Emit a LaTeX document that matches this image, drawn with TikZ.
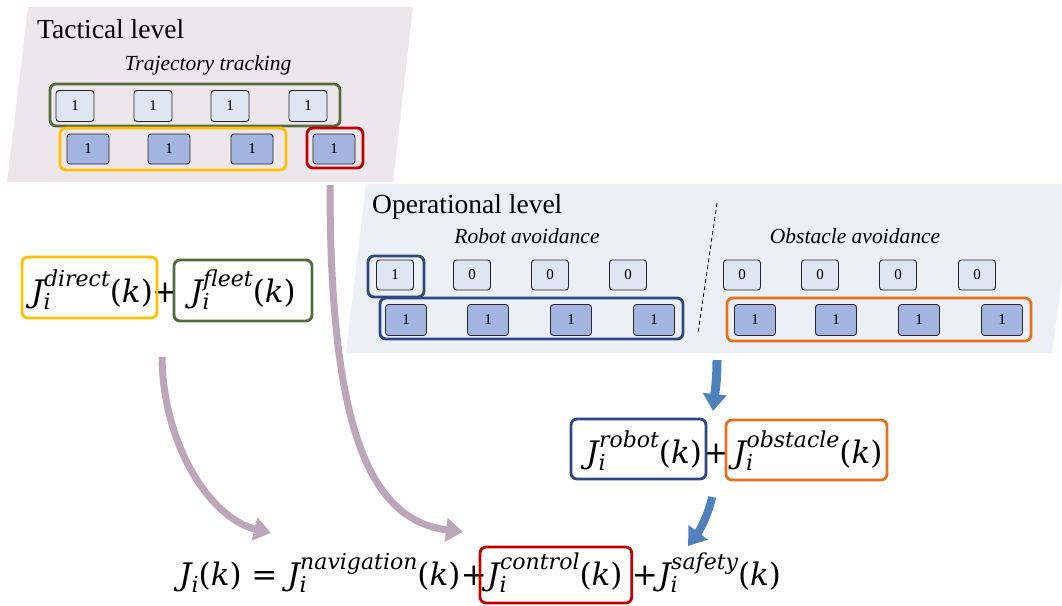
\RequirePackage{fix-cm}
\documentclass[tikz,border=0pt]{standalone}
\usepackage{fontspec}
\setmainfont{Liberation Serif}
\newfontfamily\mf{DejaVu Serif}
\newcommand\sps{\fontsize{22}{22}\selectfont\mf\itshape}
\newcommand\Jx[1]{{\mf\itshape J}\rlap{\raisebox{-7pt}{\sps i}}\kern0.5pt\raisebox{16pt}{\sps #1}{\mf(\itshape k\upshape)}}
\usetikzlibrary{arrows.meta}
\definecolor{tacbg}{HTML}{EDE6EA}
\definecolor{opbg}{HTML}{ECEFF6}
\definecolor{lightbox}{HTML}{DEE5F3}
\definecolor{darkbox}{HTML}{A3B4E0}
\definecolor{olive}{HTML}{556B3E}
\definecolor{gold}{HTML}{FFC000}
\definecolor{darkred}{HTML}{C00000}
\definecolor{navy}{HTML}{2E4780}
\definecolor{orng}{HTML}{E8701A}
\definecolor{mauve}{HTML}{BBA6BA}
\definecolor{bluearr}{HTML}{4F81BD}
\begin{document}
\begin{tikzpicture}[x=1pt,y=-1pt,
  cell/.style={draw=black!85, rounded corners=3pt, line width=0.9pt, inner sep=0pt, font=\fontsize{15}{15}\selectfont},
  lcell/.style={cell, fill=lightbox, minimum width=38pt, minimum height=31pt},
  dcell/.style={cell, fill=darkbox, minimum width=42pt, minimum height=30pt},
  grp/.style={rounded corners=6pt, line width=2.8pt},
  title/.style={font=\fontsize{27.5}{30}\selectfont, anchor=base west, inner sep=0pt},
  sub/.style={font=\fontsize{21.5}{24}\selectfont\itshape, anchor=base, inner sep=0pt},
  fml/.style={font=\fontsize{31}{36}\selectfont\mf, inner sep=0pt, anchor=base},
  fmlc/.style={font=\fontsize{31}{36}\selectfont\mf, inner sep=0pt, anchor=base west},
  fat/.style={line width=7pt, -{Triangle[width=23pt,length=17pt]}},
]
\useasboundingbox (0,0) rectangle (1062,605);
\clip (0,0) rectangle (1062,605);

% Tactical panel
\fill[tacbg] (28,7) -- (413,7) -- (393,182) -- (7,182) -- cycle;
\node[title] (tt) at (37,38) {Tactical level};
\node[sub] (trj) at (208,70) {Trajectory tracking};
\node[lcell] (t1) at (75,106) {1};
\node[lcell] (t2) at (153,106) {1};
\node[lcell] (t3) at (230,106) {1};
\node[lcell] (t4) at (308,106) {1};
\node[dcell] (u1) at (88,149) {1};
\node[dcell] (u2) at (169,149) {1};
\node[dcell] (u3) at (252,149) {1};
\node[dcell] (u4) at (334,149) {1};
\draw[grp, draw=olive] (50,84) rectangle (340,126);
\draw[grp, draw=gold] (60,128) rectangle (286,170);
\draw[grp, draw=darkred] (307,128) rectangle (363,168);

% Operational panel
\fill[opbg] (366,184) -- (1075,184) -- (1052,353) -- (346,353) -- cycle;
\node[title] (ot) at (372,213) {Operational level};
\node[sub] (ra) at (527,243) {Robot avoidance};
\node[sub] (oa) at (855,243) {Obstacle avoidance};
\coordinate (dtop) at (717,203);
\coordinate (dbot) at (698,333);
\draw[dashed, line width=0.8pt, dash pattern=on 4pt off 3pt] (dtop) -- (dbot);
\foreach \x/\v [count=\i] in {395/1,472/0,550/0,628/0,742/0,820/0,898/0,977/0}
  \node[lcell, minimum width=37pt, minimum height=30pt] (o\i) at (\x,275) {\v};
\foreach \x [count=\i] in {406,488,571,654,755,836,919,1002}
  \node[dcell, minimum width=41pt, minimum height=31pt] (p\i) at (\x,320) {1};
\draw[grp, draw=navy] (368,256) rectangle (424,297);
\draw[grp, draw=navy] (380,298) rectangle (683,339);
\draw[grp, draw=orng] (727,298) rectangle (1031,341);

% Left formula
\node[fml] (fd) at (92,302) {\Jx{direct}};
\node[fml] (fp1) at (165,302) {+};
\node[fml] (ff) at (243,302) {\Jx{fleet}};
\draw[grp, draw=gold] (22,257) rectangle (157,318);
\draw[grp, draw=olive] (174,260) rectangle (312,321);

% Middle formula
\node[fml] (fr) at (644,463) {\Jx{robot}};
\node[fml] (fp2) at (716,463) {+};
\node[fml] (fo) at (808,463) {\Jx{obstacle}};
\draw[grp, draw=navy] (571,419) rectangle (706,479);
\draw[grp, draw=orng] (726,420) rectangle (887,480);

% Bottom formula
\coordinate (rtop) at (0,547);
\coordinate (rbot) at (0,603);
\node[fmlc] (g1) at (179,585) {{\itshape J}\raisebox{-7pt}{\sps i}(\textit{k})\ =\ \Jx{navigation}};
\node[fmlc] (g2) at (g1.base east) {+};
\node[fmlc] (g3) at (g2.base east) {\Jx{control}};
\node[fmlc] (g4) at ([xshift=9pt]g3.base east) {+};
\node[fmlc] (g5) at (g4.base east) {\Jx{safety}};
\draw[grp, draw=darkred] ([xshift=-7pt]g3.west |- rtop) rectangle ([xshift=9pt]g3.east |- rbot);

% Arrows
\coordinate (a1s) at (162,357);
\coordinate (a1e) at (271,533);
\coordinate (a2s) at (330,185);
\coordinate (a2e) at (463,532);
\coordinate (b1s) at (717,360);
\coordinate (b1e) at (713,411);
\coordinate (b2s) at (712,497);
\coordinate (b2e) at (688,546);
\draw[fat, draw=mauve] (a1s) .. controls (163,445) and (210,518) .. (a1e);
\draw[fat, draw=mauve] (a2s) .. controls (330,430) and (370,520) .. (a2e);
\draw[fat, draw=bluearr, line width=9pt] (b1s) .. controls (717,380) and (715,392) .. (b1e);
\draw[fat, draw=bluearr, line width=8pt] (b2s) .. controls (709,513) and (700,530) .. (b2e);
\end{tikzpicture}
\end{document}
